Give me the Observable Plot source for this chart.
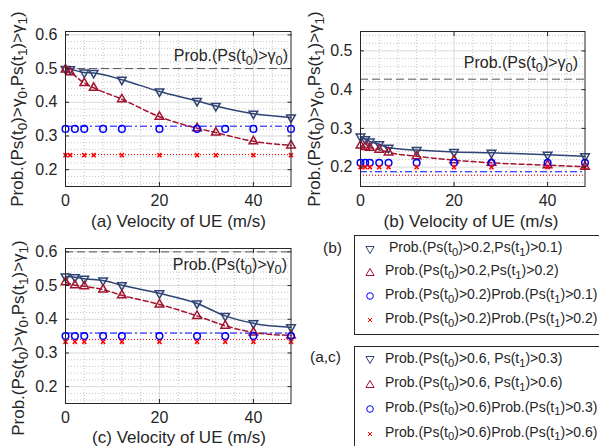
<!DOCTYPE html>
<html><head><meta charset="utf-8">
<script src="https://cdn.jsdelivr.net/npm/d3@7"></script>
<script src="https://cdn.jsdelivr.net/npm/@observablehq/plot@0.6"></script>
<style>
body{margin:0;background:#fff;}
#wrap{position:relative;width:599px;height:446px;overflow:hidden;background:#fff;font-family:"Liberation Sans",Arial,Helvetica,sans-serif;color:#262626;}
.abs{position:absolute;white-space:nowrap;}
.sub{font-size:0.8em;position:relative;top:0.33em;}
.box{position:absolute;border:1px solid #262626;background:#fff;box-sizing:border-box;}
</style></head><body><div id="wrap"></div>
<script>
// ---------- data ----------
const xTicks = [0, 20, 40];
const yTicksAC = [0.2, 0.3, 0.4, 0.5, 0.6];
const yTicksB = [0.2, 0.3, 0.4, 0.5];

// panel (a)
const xA = [0, 1, 4, 6, 12, 20, 28, 32, 40, 48];
const xAcirc = [0, 2, 4, 8, 12, 20, 28, 34, 40, 48];
const triDownA = [0.499, 0.498, 0.488, 0.487, 0.467, 0.432, 0.404, 0.389, 0.366, 0.355];
const triUpA = [0.497, 0.489, 0.457, 0.443, 0.409, 0.357, 0.323, 0.310, 0.284, 0.272];
const circA = [0.321, 0.321, 0.321, 0.321, 0.321, 0.321, 0.321, 0.321, 0.321, 0.321];
const crossA = [0.243, 0.243, 0.243, 0.243, 0.243, 0.243, 0.243, 0.243, 0.243, 0.243];
const linesA = {ref: 0.5, circ: 0.329, cross: 0.245};

// panel (b)
const xB = [0, 1, 2, 4, 6, 12, 20, 28, 40, 48];
const triDownB = [0.279, 0.272, 0.266, 0.259, 0.250, 0.244, 0.239, 0.237, 0.232, 0.228];
const triUpB = [0.256, 0.252, 0.250, 0.245, 0.238, 0.228, 0.218, 0.211, 0.205, 0.201];
const circB = [0.211, 0.211, 0.211, 0.211, 0.211, 0.211, 0.211, 0.211, 0.211, 0.211];
const crossB = [0.200, 0.200, 0.200, 0.200, 0.200, 0.200, 0.200, 0.200, 0.200, 0.200];
const linesB = {ref: 0.427, circ: 0.188, cross: 0.179};

// panel (c)
const xC = [0, 2, 4, 8, 12, 20, 28, 34, 40, 48];
const triDownC = [0.527, 0.525, 0.520, 0.515, 0.501, 0.477, 0.447, 0.410, 0.388, 0.376];
const triUpC = [0.510, 0.501, 0.498, 0.488, 0.471, 0.444, 0.410, 0.381, 0.361, 0.352];
const circC = [0.350, 0.350, 0.350, 0.350, 0.350, 0.350, 0.350, 0.350, 0.350, 0.350];
const crossC = [0.333, 0.333, 0.333, 0.333, 0.333, 0.333, 0.333, 0.333, 0.333, 0.333];
const linesC = {ref: 0.6, circ: 0.359, cross: 0.340};

// texts
const yLabel = "Prob.(Ps(t_0)>γ_0,Ps(t_1)>γ_1)";
const xLabels = ["(a) Velocity of UE (m/s)", "(b) Velocity of UE (m/s)", "(c) Velocity of UE (m/s)"];
const refLabel = "Prob.(Ps(t_0)>γ_0)";
const legendB = [" Prob.(Ps(t_0)>0.2,Ps(t_1)>0.1)", "Prob.(Ps(t_0)>0.2,Ps(t_1)>0.2)", "Prob.(Ps(t_0)>0.2)Prob.(Ps(t_1)>0.1)", "Prob.(Ps(t_0)>0.2)Prob.(Ps(t_1)>0.2)"];
const legendAC = ["Prob.(Ps(t_0)>0.6, Ps(t_1)>0.3)", "Prob.(Ps(t_0)>0.6, Ps(t_1)>0.6)", "Prob.(Ps(t_0)>0.6)Prob.(Ps(t_1)>0.3)", "Prob.(Ps(t_0)>0.6)Prob.(Ps(t_1)>0.6)"];

// ---------- style ----------
const FONT = '"Liberation Sans", Arial, Helvetica, sans-serif';
const NAVY = "#2f4474", DRED = "#a2142f", BLUE = "#0000ff", RED = "#ff0000";

const triangleDown = {
  draw(ctx, size) {
    const y = -Math.sqrt(size / (Math.sqrt(3) * 3));
    ctx.moveTo(0, -y * 2);
    ctx.lineTo(-Math.sqrt(3) * y, y);
    ctx.lineTo(Math.sqrt(3) * y, y);
    ctx.closePath();
  }
};

const minorX = [4, 8, 12, 16, 24, 28, 32, 36, 44];
function minorY(dom, majors) {
  return d3.range(Math.round(dom[0] * 50), Math.round(dom[1] * 50) + 1)
    .map(k => k / 50)
    .filter(v => v >= dom[0] && v <= dom[1] && !majors.some(m => Math.abs(m - v) < 1e-9));
}

function panel(o) {
  const pts = (xs, ys) => xs.map((x, i) => ({x, y: ys[i]}));
  const td = pts(o.x, o.triDown), tu = pts(o.x, o.triUp);
  const ci = pts(o.xc, o.circ), cr = pts(o.x, o.cross);
  return Plot.plot({
    width: o.w, height: o.h,
    marginLeft: o.ml, marginRight: o.mr, marginTop: o.mt, marginBottom: o.mb,
    style: {fontFamily: FONT, fontSize: "16px", color: "#262626", background: "transparent", overflow: "visible"},
    x: {domain: [0, 48]},
    y: {domain: o.yDomain},
    marks: [
      Plot.gridX(minorX, {stroke: "#c4c4c4", strokeOpacity: 1, strokeDasharray: "1,2"}),
      Plot.gridY(minorY(o.yDomain, o.yTicks), {stroke: "#c4c4c4", strokeOpacity: 1, strokeDasharray: "1,2"}),
      Plot.gridX(xTicks, {stroke: "#dadada", strokeOpacity: 1}),
      Plot.gridY(o.yTicks, {stroke: "#dadada", strokeOpacity: 1}),
      Plot.ruleY([o.lines.ref], {stroke: "#555", strokeDasharray: "8,4"}),
      Plot.ruleY([o.lines.circ], {stroke: BLUE, strokeDasharray: "7,3,2,3"}),
      Plot.ruleY([o.lines.cross], {stroke: RED, strokeDasharray: "1,2"}),
      Plot.line(td, {x: "x", y: "y", stroke: NAVY, curve: "monotone-x"}),
      Plot.line(tu, {x: "x", y: "y", stroke: DRED, strokeDasharray: "5,3", curve: "monotone-x"}),
      Plot.dot(td, {x: "x", y: "y", symbol: triangleDown, r: 3.2, stroke: NAVY, fill: "none"}),
      Plot.dot(tu, {x: "x", y: "y", symbol: "triangle", r: 3.2, stroke: DRED, fill: "none"}),
      Plot.dot(ci, {x: "x", y: "y", symbol: "circle", r: 3.3, stroke: BLUE, fill: "none"}),
      Plot.dot(cr, {x: "x", y: "y", symbol: "times", r: 2, stroke: RED, fill: "none"}),
      Plot.frame({stroke: "#262626"}),
      Plot.axisX(xTicks, {tickSize: 0, tickPadding: 8, label: null}),
      Plot.axisY(o.yTicks, {tickSize: 0, tickPadding: 8, label: null, tickFormat: d3.format(".1f")}),
      Plot.axisX(xTicks, {tickSize: -4, tickFormat: () => "", label: null}),
      Plot.axisX(xTicks, {anchor: "top", tickSize: -4, tickFormat: () => "", label: null}),
      Plot.axisY(o.yTicks, {tickSize: -4, tickFormat: () => "", label: null}),
      Plot.axisY(o.yTicks, {anchor: "right", tickSize: -4, tickFormat: () => "", label: null})
    ]
  });
}

const wrap = document.getElementById("wrap");
function place(el, left, top) {
  el.style.position = "absolute"; el.style.left = left + "px"; el.style.top = top + "px";
  wrap.appendChild(el);
}
place(panel({x: xA, xc: xAcirc, triDown: triDownA, triUp: triUpA, circ: circA, cross: crossA, lines: linesA,
  yDomain: [0.15, 0.61], yTicks: yTicksAC, w: 299, h: 225, ml: 65, mr: 8.5, mt: 31, mb: 39}), 0, 0);
place(panel({x: xB, xc: xB, triDown: triDownB, triUp: triUpB, circ: circB, cross: crossB, lines: linesB,
  yDomain: [0.15, 0.55], yTicks: yTicksB, w: 299, h: 225, ml: 60, mr: 14.5, mt: 31, mb: 39}), 300, 0);
place(panel({x: xC, xc: xC, triDown: triDownC, triUp: triUpC, circ: circC, cross: crossC, lines: linesC,
  yDomain: [0.15, 0.61], yTicks: yTicksAC, w: 299, h: 221, ml: 65, mr: 8.5, mt: 23, mb: 43}), 0, 225);

// ---------- text overlays ----------
function rich(s) {
  return s.replace(/&/g, "&amp;").replace(/</g, "&lt;").replace(/>/g, "&gt;").replace(/ /g, "&nbsp;")
    .replace(/_(\w)/g, '<span class="sub">$1</span>');
}
function text(s, css) {
  const d = document.createElement("div");
  d.className = "abs";
  d.innerHTML = rich(s);
  Object.assign(d.style, css);
  wrap.appendChild(d);
  return d;
}
// y labels (rotated)
[[18, 108.5], [314.6, 108.5], [19, 337.5]].forEach(([cx, cy]) => {
  text(yLabel, {left: cx + "px", top: cy + "px", fontSize: "17px", lineHeight: "17px",
    transform: "translate(-50%,-50%) rotate(-90deg)"});
});
// x labels
[[178.5, 227], [471, 227], [179, 443]].forEach(([cx, base], i) => {
  text(xLabels[i], {left: cx + "px", top: (base - 14.4) + "px", fontSize: "17px", lineHeight: "17px",
    transform: "translateX(-50%)"});
});
// reference line annotations
[[288, 61], [578, 68], [287, 270]].forEach(([xr, base]) => {
  text(refLabel, {right: (599 - xr) + "px", top: (base - 13.5) + "px", fontSize: "16px", lineHeight: "16px"});
});

// ---------- legends ----------
const symSVG = [
  `<svg width="12" height="12" viewBox="-6 -6 12 12"><path d="M0,3.6L-4.1,-3.5L4.1,-3.5Z" fill="none" stroke="${NAVY}"/></svg>`,
  `<svg width="12" height="12" viewBox="-6 -6 12 12"><path d="M0,-3.6L-4.1,3.5L4.1,3.5Z" fill="none" stroke="${DRED}"/></svg>`,
  `<svg width="12" height="12" viewBox="-6 -6 12 12"><circle r="3.3" fill="none" stroke="${BLUE}"/></svg>`,
  `<svg width="12" height="12" viewBox="-6 -6 12 12"><path d="M-2,-2L2,2M-2,2L2,-2" fill="none" stroke="${RED}"/></svg>`
];
function legend(label, labelBase, boxTop, boxH, rows, bases, marks) {
  const b = document.createElement("div");
  b.className = "box";
  Object.assign(b.style, {left: "354px", top: boxTop + "px", width: "260px", height: boxH + "px"});
  wrap.appendChild(b);
  text(label.text, {left: label.x + "px", top: (labelBase - 13.2) + "px", fontSize: "15.5px", lineHeight: "15.5px"});
  rows.forEach((r, i) => {
    const m = document.createElement("div");
    m.innerHTML = symSVG[i];
    Object.assign(m.style, {position: "absolute", left: "364px", top: (marks[i] - 6) + "px", width: "12px", height: "12px", lineHeight: "0"});
    wrap.appendChild(m);
    text(r, {left: "385px", top: (bases[i] - 11.85) + "px", fontSize: "14px", lineHeight: "14px"});
  });
}
legend({text: "(b)", x: 323}, 253, 235, 99.5, legendB, [252, 275, 299, 323], [250, 272, 296, 320]);
legend({text: "(a,c)", x: 310}, 362, 346, 110, legendAC, [363, 387, 411.5, 436.5], [360, 383.5, 409, 433.5]);
</script>
</body></html>
